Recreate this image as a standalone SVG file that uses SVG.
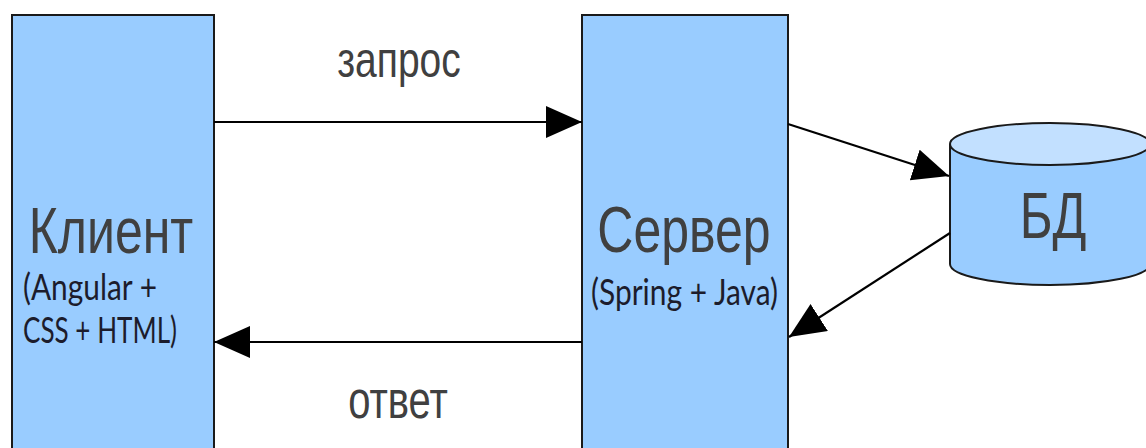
<svg xmlns="http://www.w3.org/2000/svg" width="1146" height="448" viewBox="0 0 1146 448">
<style>
.box{fill:#99ccff;stroke:#1a1a1a;stroke-width:2}
.main{font-family:"Liberation Sans",Arial,sans-serif;fill:#404040;text-anchor:middle}
.sub{font-family:Lato,"Open Sans",sans-serif;fill:#1c1c2c;font-size:28px}
.conn{stroke:#000;stroke-width:2.2;fill:none;marker-end:url(#ah)}
</style>
<defs>
<marker id="ah" markerUnits="userSpaceOnUse" markerWidth="38" markerHeight="34" refX="36" refY="16" orient="auto">
<path d="M0,0 L36,16 L0,32 Z" fill="#000"/>
</marker>
</defs>
<rect width="1146" height="448" fill="#fff"/>
<g id="client">
<rect class="box" x="12" y="15" width="202" height="450"/>
<text class="main" font-size="50" transform="translate(111,253) scale(1,1.3)">Клиент</text>
<text class="sub" transform="translate(23,300) scale(1,1.3)" textLength="134" lengthAdjust="spacingAndGlyphs">(Angular +</text>
<text class="sub" transform="translate(23,343) scale(1,1.3)" textLength="154" lengthAdjust="spacingAndGlyphs">CSS + HTML)</text>
</g>
<g id="server">
<rect class="box" x="582" y="15" width="206" height="450"/>
<text class="main" font-size="50" transform="translate(684,252) scale(1,1.3)">Сервер</text>
<text class="sub" transform="translate(591,305) scale(1,1.3)" textLength="187" lengthAdjust="spacingAndGlyphs">(Spring + Java)</text>
</g>
<g id="db">
<path d="M950,144 L950,264 A100,21 0 0 0 1150,264 L1150,144" fill="#99ccff" stroke="#1a1a1a" stroke-width="2"/>
<ellipse cx="1050" cy="144" rx="100" ry="21" fill="#c2e0ff" stroke="#1a1a1a" stroke-width="2"/>
<text class="main" font-size="50" transform="translate(1053,238) scale(1,1.3)">БД</text>
</g>
<g id="connectors">
<line class="conn" x1="214" y1="122" x2="582" y2="122"/>
<line class="conn" x1="582" y1="342" x2="214" y2="342"/>
<line class="conn" x1="788" y1="124" x2="949" y2="176"/>
<line class="conn" x1="950" y1="233" x2="789" y2="337"/>
<text class="main" font-size="39" transform="translate(399,77) scale(1,1.3)">запрос</text>
<text class="main" font-size="40" transform="translate(398,418) scale(1,1.3)">ответ</text>
</g>
</svg>
